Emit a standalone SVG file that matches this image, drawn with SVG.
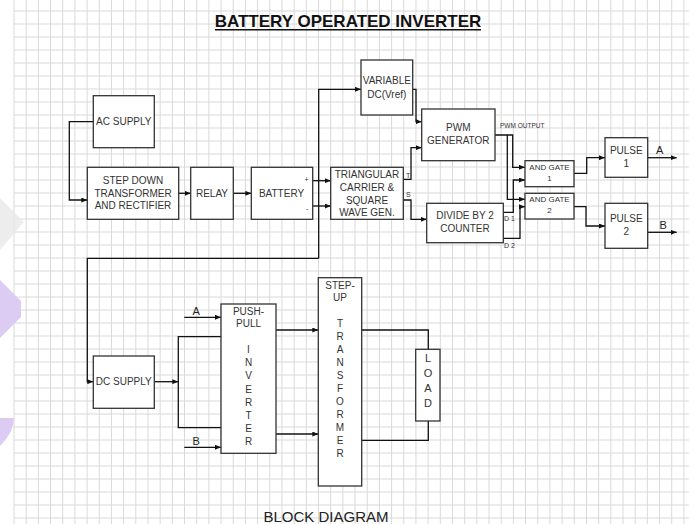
<svg xmlns="http://www.w3.org/2000/svg" width="689" height="524" viewBox="0 0 689 524">
<defs>
<style>
.g{stroke:#d9d9d9;stroke-width:1;fill:none}
.b{fill:#fff;stroke:#333;stroke-width:1.3}
.w{fill:none;stroke:#111;stroke-width:1.3}
.a{marker-end:url(#ah)}
text{font-family:"Liberation Sans",Arial,sans-serif;fill:#333}
.t{font-size:10px;text-anchor:middle}
.s{font-size:8px;text-anchor:middle}
.x{font-size:7px;fill:#333}
.l{font-size:11px;fill:#222}
</style>
<marker id="ah" markerWidth="6" markerHeight="5" refX="6" refY="2.5" orient="auto" markerUnits="userSpaceOnUse"><path d="M0,0 L6,2.5 L0,5 z" fill="#111"/></marker>
</defs>
<rect width="689" height="524" fill="#fff"/>
<g id="grid">
<path class="g" d="M14,0V524M26.18,0V524M38.36,0V524M50.54,0V524M62.72,0V524M74.9,0V524M87.08,0V524M99.26,0V524M111.44,0V524M123.62,0V524M135.8,0V524M147.98,0V524M160.16,0V524M172.34,0V524M184.52,0V524M196.7,0V524M208.88,0V524M221.06,0V524M233.24,0V524M245.42,0V524M257.6,0V524M269.78,0V524M281.96,0V524M294.14,0V524M306.32,0V524M318.5,0V524M330.68,0V524M342.86,0V524M355.04,0V524M367.22,0V524M379.4,0V524M391.58,0V524M403.76,0V524M415.94,0V524M428.12,0V524M440.3,0V524M452.48,0V524M464.66,0V524M476.84,0V524M489.02,0V524M501.2,0V524M513.38,0V524M525.56,0V524M537.74,0V524M549.92,0V524M562.1,0V524M574.28,0V524M586.46,0V524M598.64,0V524M610.82,0V524M623,0V524M635.18,0V524M647.36,0V524M659.54,0V524M671.72,0V524M683.9,0V524"/>
<path class="g" d="M14,11H689M14,24H689M14,37H689M14,50H689M14,63H689M14,76H689M14,89H689M14,102H689M14,115H689M14,128H689M14,141H689M14,154H689M14,167H689M14,180H689M14,193H689M14,206H689M14,219H689M14,232H689M14,245H689M14,258H689M14,271H689M14,284H689M14,297H689M14,310H689M14,323H689M14,336H689M14,349H689M14,362H689M14,375H689M14,388H689M14,401H689M14,414H689M14,427H689M14,440H689M14,453H689M14,466H689M14,479H689M14,492H689M14,505H689M14,518H689"/>
</g>
<g id="watermark">
<path d="M0,198 L24,222 L0,250 Z" fill="#e9e9e9" opacity="0.8"/>
<path d="M0,280 L21,301 L21,317 L0,338 Z" fill="#dccbf3"/>
<path d="M0,418 L14,418 Q14,432 0,446 Z" fill="#dccbf3"/>
</g>
<g id="title">
<text x="348" y="26.5" style="font-size:17px;font-weight:bold;fill:#111;text-anchor:middle">BATTERY OPERATED INVERTER</text>
<line x1="215" y1="29.8" x2="481" y2="29.8" stroke="#111" stroke-width="1.6"/>
</g>
<g id="connectors">
<path class="w a" d="M93.3,121.7H69.3V200H87.3"/>
<path class="w a" d="M178.7,193.3H190.7"/>
<path class="w a" d="M233.3,193.3H251.3"/>
<path class="w a" d="M312.7,180.7H330.7"/>
<path class="w a" d="M312.7,206H330.7"/>
<path class="w a" d="M318.7,258.3V89.3H361"/>
<path class="w a" d="M318.7,258.3H87.3V381.7H93.3"/>
<path class="w a" d="M412.7,89.3H416V121.7H421.7"/>
<path class="w a" d="M403.3,179.3H411V147.7H421.7"/>
<path class="w a" d="M403.3,200H411V219.3H426.7"/>
<path class="w a" d="M495,135H512.7V167.3H525"/>
<path class="w a" d="M507.3,135V199.3H525"/>
<path class="w a" d="M503.3,212.3H513.3V180H525"/>
<path class="w a" d="M503.3,238.3H520V206.7H525"/>
<path class="w a" d="M574,173.3H586.7V157.7H605"/>
<path class="w a" d="M574,206.7H586V226H605"/>
<path class="w a" d="M647.7,157.7H676.7"/>
<path class="w a" d="M647.7,232.3H676.7"/>
<path class="w a" d="M154.3,381.7H178.3"/>
<path class="w" d="M221,336.7H178.3V427.7H221"/>
<path class="w a" d="M184.3,317.3H221"/>
<path class="w a" d="M184.3,447.3H221"/>
<path class="w a" d="M276,330H318.3"/>
<path class="w a" d="M276,434H318.3"/>
<path class="w" d="M361.7,330H428.3V349.3"/>
<path class="w" d="M361.7,440.3H428.3V421"/>
</g>
<g id="ac-supply">
<rect class="b" x="93.3" y="95.7" width="61" height="52"/>
<text class="t" x="123.8" y="125.3">AC SUPPLY</text>
</g>
<g id="step-down">
<rect class="b" x="87.3" y="167.3" width="91.4" height="52"/>
<text class="t" x="133" y="183.6">STEP DOWN</text>
<text class="t" x="133" y="196.9">TRANSFORMER</text>
<text class="t" x="133" y="209.3">AND RECTIFIER</text>
</g>
<g id="relay">
<rect class="b" x="190.7" y="167.3" width="42.6" height="52"/>
<text class="t" x="212" y="197">RELAY</text>
</g>
<g id="battery">
<rect class="b" x="251.3" y="167.3" width="61.4" height="52"/>
<text class="t" x="281.5" y="197">BATTERY</text>
<text class="x" x="304.5" y="182">+</text>
<text class="x" x="306" y="210.5">-</text>
</g>
<g id="variable-dc">
<rect class="b" x="361" y="60" width="51.7" height="55"/>
<text class="t" x="386.8" y="84.3">VARIABLE</text>
<text class="t" x="386.8" y="97.9">DC(Vref)</text>
</g>
<g id="triangular">
<rect class="b" x="330.7" y="167.3" width="72.6" height="52"/>
<text class="t" x="367" y="178">TRIANGULAR</text>
<text class="t" x="367" y="190.5">CARRIER &amp;</text>
<text class="t" x="367" y="203.5">SQUARE</text>
<text class="t" x="367" y="216">WAVE GEN.</text>
<text class="x" x="406" y="177.5">T</text>
<text class="x" x="406" y="196.8">S</text>
</g>
<g id="pwm">
<rect class="b" x="421.7" y="109" width="73.3" height="51.7"/>
<text class="t" x="458.3" y="131.3">PWM</text>
<text class="t" x="458.3" y="144.3">GENERATOR</text>
<text x="500" y="128.3" style="font-size:6.5px;fill:#333">PWM OUTPUT</text>
</g>
<g id="divide">
<rect class="b" x="426.7" y="203.3" width="76.6" height="39.4"/>
<text class="t" x="465" y="219.3">DIVIDE BY 2</text>
<text class="t" x="465" y="231.9">COUNTER</text>
<text class="x" x="504" y="220.8">D 1</text>
<text class="x" x="504" y="247.5">D 2</text>
</g>
<g id="and1">
<rect class="b" x="525" y="160.7" width="49" height="26"/>
<text class="s" x="549.5" y="169.6">AND GATE</text>
<text class="s" x="549.5" y="180.6">1</text>
</g>
<g id="and2">
<rect class="b" x="525" y="193.3" width="49" height="25.7"/>
<text class="s" x="549.5" y="202.2">AND GATE</text>
<text class="s" x="549.5" y="212.9">2</text>
</g>
<g id="pulse1">
<rect class="b" x="605" y="137.7" width="42.7" height="39.6"/>
<text class="t" x="626.3" y="153.6">PULSE</text>
<text class="t" x="626.3" y="166.9">1</text>
<text class="l" x="656" y="154">A</text>
</g>
<g id="pulse2">
<rect class="b" x="605" y="203.3" width="42.7" height="45"/>
<text class="t" x="626.3" y="221.9">PULSE</text>
<text class="t" x="626.3" y="235.3">2</text>
<text class="l" x="659.5" y="229">B</text>
</g>
<g id="dc-supply">
<rect class="b" x="93.3" y="356" width="61" height="52.3"/>
<text class="t" x="123.8" y="385.3">DC SUPPLY</text>
</g>
<g id="push-pull">
<rect class="b" x="221" y="304" width="55" height="149.3"/>
<text class="t" x="248.5" y="314.6">PUSH-</text>
<text class="t" x="248.5" y="326.9">PULL</text>
<text class="t" x="248.5" y="352.9">I<tspan x="248.5" dy="13.2">N</tspan><tspan x="248.5" dy="13.2">V</tspan><tspan x="248.5" dy="13.2">E</tspan><tspan x="248.5" dy="13.2">R</tspan><tspan x="248.5" dy="13.2">T</tspan><tspan x="248.5" dy="13.2">E</tspan><tspan x="248.5" dy="13.2">R</tspan></text>
<text class="l" x="192.5" y="315">A</text>
<text class="l" x="192.5" y="445">B</text>
</g>
<g id="step-up">
<rect class="b" x="318.3" y="277.7" width="43.4" height="208.3"/>
<text class="t" x="340" y="288.6">STEP-</text>
<text class="t" x="340" y="300.9">UP</text>
<text class="t" x="340" y="326.9">T<tspan x="340" dy="13.04">R</tspan><tspan x="340" dy="13.04">A</tspan><tspan x="340" dy="13.04">N</tspan><tspan x="340" dy="13.04">S</tspan><tspan x="340" dy="13.04">F</tspan><tspan x="340" dy="13.04">O</tspan><tspan x="340" dy="13.04">R</tspan><tspan x="340" dy="13.04">M</tspan><tspan x="340" dy="13.04">E</tspan><tspan x="340" dy="13.04">R</tspan></text>
</g>
<g id="load">
<rect class="b" x="415.7" y="349.3" width="24.3" height="71.7"/>
<text x="428" y="362.3" style="font-size:11px;text-anchor:middle">L<tspan x="428" dy="15">O</tspan><tspan x="428" dy="15">A</tspan><tspan x="428" dy="14.5">D</tspan></text>
</g>
<g id="caption">
<text x="326" y="521.5" style="font-size:15px;text-anchor:middle;fill:#222">BLOCK DIAGRAM</text>
</g>
</svg>
